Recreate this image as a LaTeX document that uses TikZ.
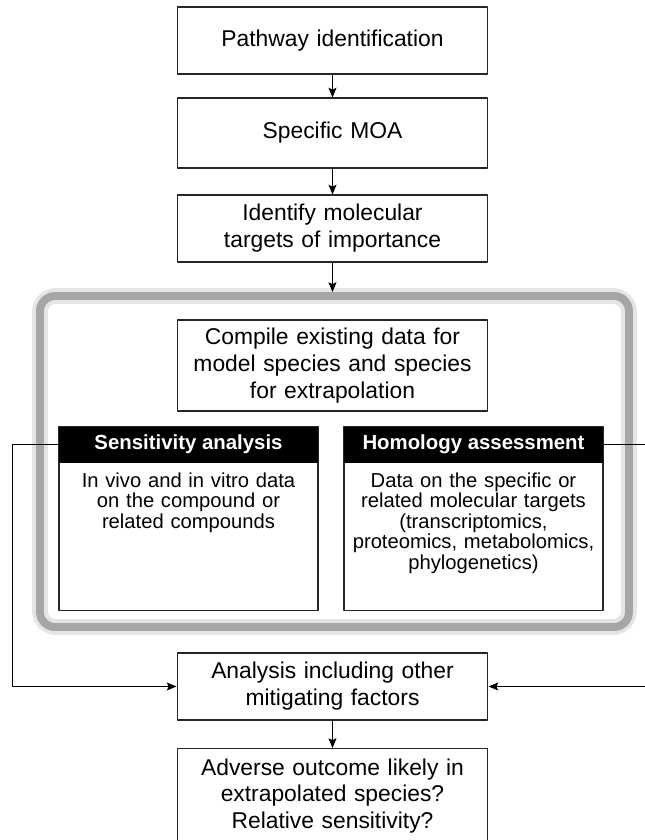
\documentclass[tikz,border=0pt]{standalone}
\usepackage{fontspec}
\setmainfont{Liberation Sans}
\usetikzlibrary{arrows.meta}
\begin{document}
\begin{tikzpicture}[x=0.02cm,y=-0.02cm,line join=round,>={Stealth[length=5.5pt,width=4.5pt,inset=1pt]},line width=0.6pt,
	box/.style={draw=black!85,fill=white,minimum width=6.22cm,text width=6cm,align=center,inner sep=0pt,font=\fontsize{13}{15.3}\selectfont},
	head/.style={fill=black,text=white,minimum width=5.18cm,minimum height=0.72cm,inner sep=0pt,font=\fontsize{11.6}{13}\selectfont\bfseries},
	panel/.style={draw=black!85,fill=white,minimum width=5.18cm,minimum height=3.68cm,inner sep=0pt},
	small/.style={text width=5.1cm,align=center,inner sep=0pt,font=\fontsize{11.5}{11.7}\selectfont}]
	\def\xm{332.5} %x giữa
	\useasboundingbox (0,0) rectangle (645,840);
	% khung xám
	\draw[black!10,line width=9pt,rounded corners=0.32cm] (40,296) rectangle (629,627);
	\draw[black!35,line width=4.5pt,rounded corners=0.3cm] (40,296) rectangle (629,627);
	\node[box,minimum height=1.34cm] (path) at (\xm,40.5) {Pathway identification};
	\node[box,minimum height=1.4cm] (moa) at (\xm,133) {Specific MOA};
	\node[box,minimum height=1.34cm] (targets) at (\xm,228.5) {Identify molecular\\targets of importance};
	\coordinate (frametop) at (\xm,292);
	\node[box,minimum height=1.82cm] (compile) at (\xm,365.5) {Compile existing data for\\model species and species\\for extrapolation};
	\node[panel,anchor=north] (sensbox) at (188.5,426) {};
	\node[head,anchor=north] (senshead) at (sensbox.north) {Sensitivity analysis};
	\node[small,anchor=north] (senstext) at ([yshift=-0.18cm]senshead.south) {In vivo and in vitro data\\on the compound or\\related compounds};
	\node[panel,anchor=north] (homobox) at (473.5,426) {};
	\node[head,anchor=north] (homohead) at (homobox.north) {Homology assessment};
	\node[small,anchor=north] (homotext) at ([yshift=-0.18cm]homohead.south) {Data on the specific or\\related molecular targets\\(transcriptomics,\\proteomics, metabolomics,\\phylogenetics)};
	\node[box,minimum height=1.34cm] (analysis) at (\xm,686.5) {Analysis including other\\mitigating factors};
	\node[box,minimum height=1.9cm,anchor=north] (adverse) at (\xm,748) {Adverse outcome likely in\\extrapolated species?\\Relative sensitivity?};
	% mũi tên
	\draw[->] (path) -- (moa);
	\draw[->] (moa) -- (targets);
	\draw[->] (targets) -- (frametop);
	\draw[->] (senshead.west) -- ++(-46,0) |- (analysis.west);
	\draw[->] (homohead.east) -- ++(60,0) |- (analysis.east);
	\draw[->] (analysis) -- (adverse);
\end{tikzpicture}
\end{document}
